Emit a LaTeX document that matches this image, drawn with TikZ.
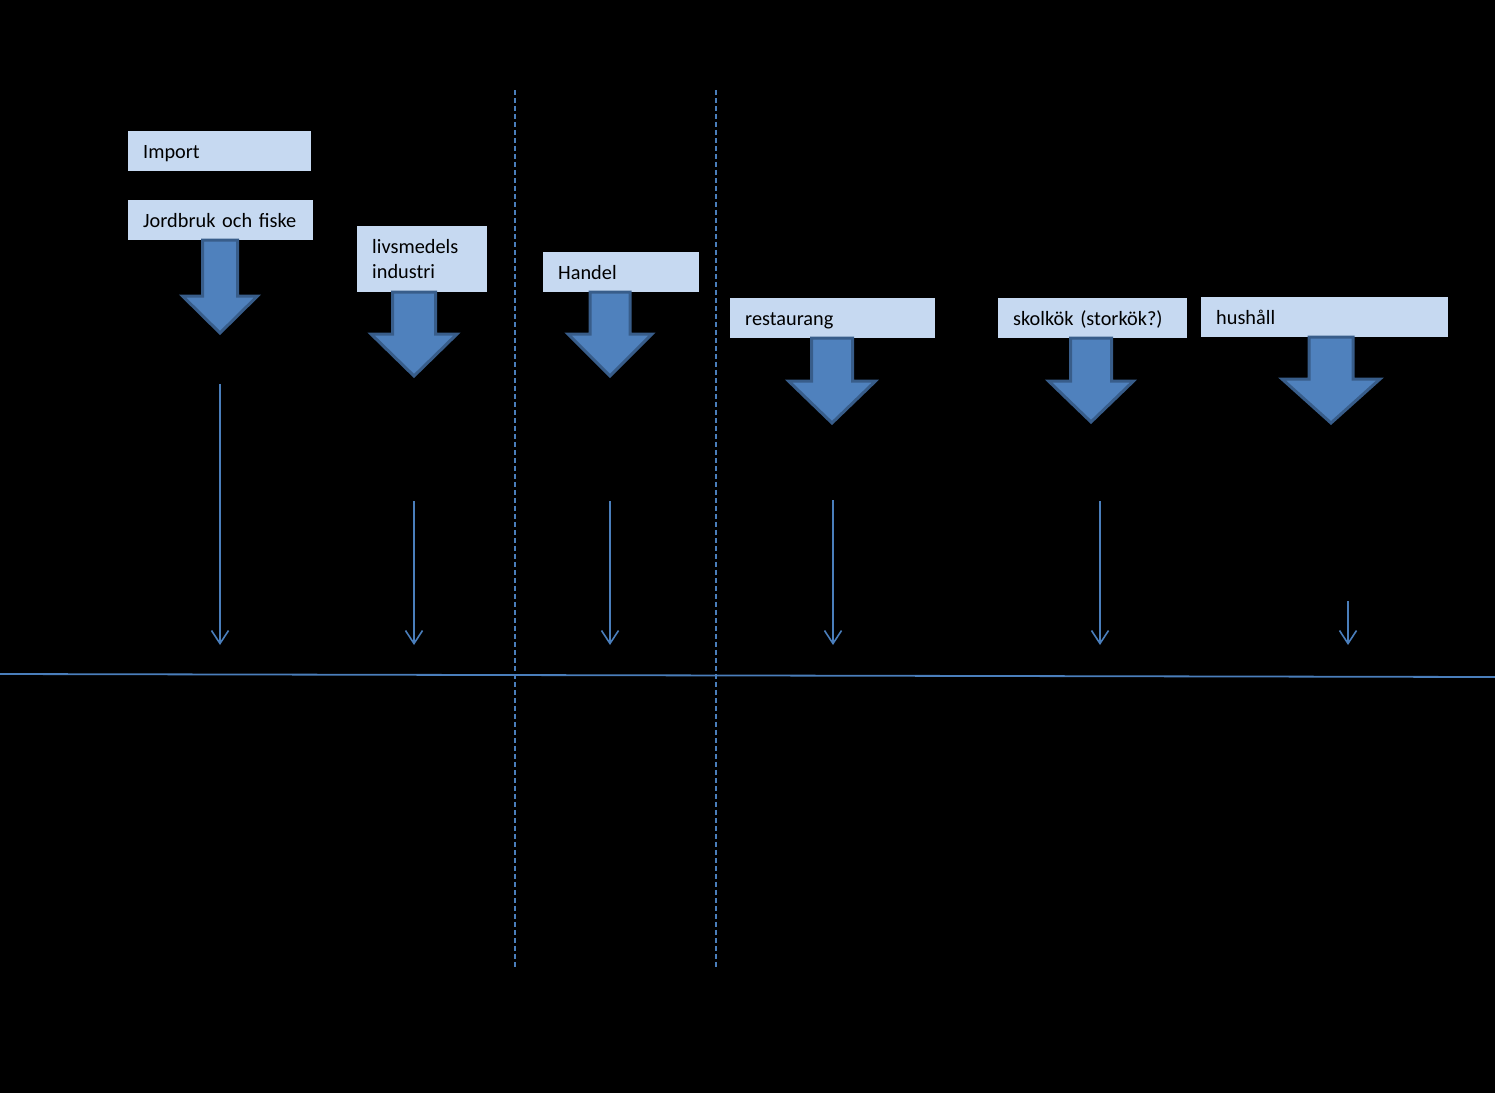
\documentclass[tikz,border=0pt]{standalone}
\usepackage{fontspec}
\setmainfont{Carlito}
\usetikzlibrary{arrows.meta}
\definecolor{boxfill}{HTML}{C6D9F1}
\definecolor{arrfill}{HTML}{4F81BD}
\definecolor{arrborder}{HTML}{385D8A}
\definecolor{linecol}{HTML}{4A7EBB}
\tikzset{
  box/.style={fill=boxfill, draw=none, anchor=north west, inner xsep=15pt, inner ysep=0pt,
    minimum height=40pt, align=left, text height=19pt, text depth=5pt,
    font=\fontsize{20.3}{25}\selectfont, text=black},
  barrow/.style={fill=arrfill, draw=arrborder, line width=3pt, line join=miter},
  flowline/.style={draw=linecol, line width=1.6pt, -{Straight Barb[length=13pt,width=17pt,line width=1.6pt]}},
  baseline/.style={draw=linecol, line width=1.8pt},
  divider/.style={draw=linecol, line width=1.8pt, dash pattern=on 5pt off 3pt},
  pics/blockarrow/.style args={#1/#2/#3/#4}{code={
    \draw[barrow] (-#1,0) -- (-#1,#3) -- (-#2,#3) -- (0,#4) -- (#2,#3) -- (#1,#3) -- (#1,0) -- cycle;
  }}
}
\begin{document}
\begin{tikzpicture}[x=1pt,y=-1pt]
\fill[black] (0,0) rectangle (1495,1093);
\useasboundingbox (0,0) rectangle (1495,1093);

% dividers
\coordinate (d1t) at (515,90); \coordinate (d1b) at (515,968);
\coordinate (d2t) at (716,90); \coordinate (d2b) at (716,968);
\draw[divider] (d1t) -- (d1b);
\draw[divider] (d2t) -- (d2b);

% horizontal base line
\coordinate (hl) at (0,674); \coordinate (hr) at (1495,677);
\draw[baseline] (hl) -- (hr);

% boxes
\node[box, text width=153pt] (imp) at (128,131) {Import};
\node[box, text width=155pt] (jord) at (128,200) {Jordbruk och fiske};
\node[box, text width=100pt, minimum height=66pt, text depth=30pt] (livs) at (357,226) {livsmedels\\industri};
\node[box, text width=126pt] (hand) at (543,252) {Handel};
\node[box, text width=175pt] (rest) at (730,298) {restaurang};
\node[box, text width=159pt] (skol) at (998,298) {skolkök (storkök?)};
\node[box, text width=217pt] (hush) at (1201,297) {hushåll};

% block arrows
\pic at (220,240) {blockarrow={17.5/37.5/56/93}};
\pic at (414,292) {blockarrow={21.5/43/42/84}};
\pic at (610,292) {blockarrow={20/42/42/84}};
\pic at (832,338) {blockarrow={20.5/43.5/43/85}};
\pic at (1091,338) {blockarrow={20.5/42.5/43/84}};
\pic at (1331,337) {blockarrow={22/49/42/86}};

% thin arrows
\coordinate (s1) at (220,384);  \coordinate (e1) at (220,645);
\coordinate (s2) at (414,501);  \coordinate (e2) at (414,645);
\coordinate (s3) at (610,501);  \coordinate (e3) at (610,645);
\coordinate (s4) at (833,500);  \coordinate (e4) at (833,645);
\coordinate (s5) at (1100,501); \coordinate (e5) at (1100,645);
\coordinate (s6) at (1348,601); \coordinate (e6) at (1348,645);
\foreach \i in {1,...,6} \draw[flowline] (s\i) -- (e\i);
\end{tikzpicture}
\end{document}
